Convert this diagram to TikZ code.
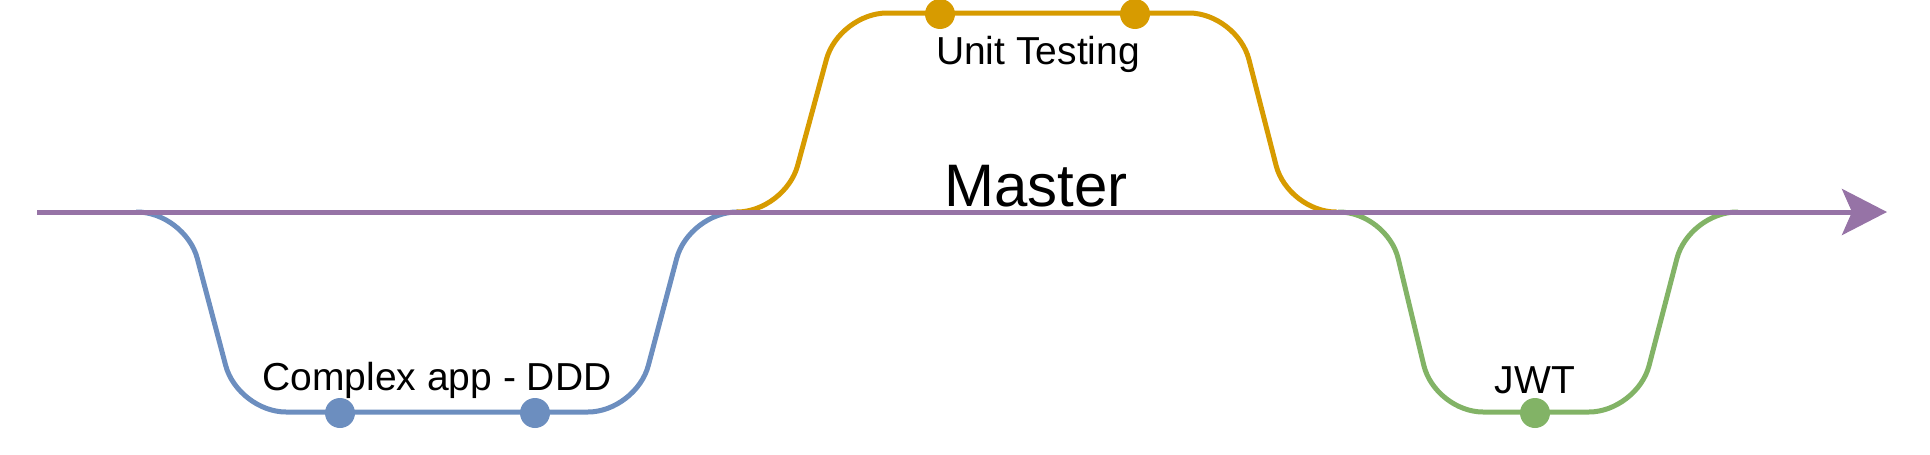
\documentclass[tikz,border=0pt]{standalone}
\usepackage{fontspec}
\setmainfont{Liberation Sans}
\usetikzlibrary{arrows.meta}
\definecolor{mpurple}{HTML}{9673A6}
\definecolor{mblue}{HTML}{6C8EBF}
\definecolor{morange}{HTML}{D79B00}
\definecolor{mgreen}{HTML}{82B366}
\begin{document}
\begin{tikzpicture}[x=1pt,y=-1pt,
  branch/.style={line width=5pt, rounded corners=48pt},
  commit/.style={circle, inner sep=0pt, minimum size=30pt},
  lbl/.style={inner sep=0pt, anchor=base, font=\fontsize{39}{47}\selectfont},
  masterline/.style={line width=5pt, draw=mpurple, -{Stealth[length=45pt, width=46pt, inset=10pt, fill=mpurple]}}]
\useasboundingbox (0,0) rectangle (1930,455);

\coordinate (mStart) at (37,212);
\coordinate (mEnd) at (1887,212);

% blue branch
\coordinate (bA) at (136,212);
\coordinate (bZ) at (738,212);
\draw[branch, mblue] (bA) -- (185,212) -- (238,412) -- (636,412) -- (689,212) -- (bZ);
% orange branch
\coordinate (oA) at (736,212);
\coordinate (oZ) at (1337,212);
\draw[branch, morange] (oA) -- (785,212) -- (839,13) -- (1237,13) -- (1288,212) -- (oZ);
% green branch
\coordinate (gA) at (1338,212);
\coordinate (gZ) at (1738,212);
\draw[branch, mgreen] (gA) -- (1387,212) -- (1435,412) -- (1637,412) -- (1689,212) -- (gZ);

% master
\draw[masterline] (mStart) -- (mEnd);

% commits
\node[commit, fill=mblue] (b1) at (340,413) {};
\node[commit, fill=mblue] (b2) at (535,413) {};
\node[commit, fill=morange] (o1) at (940,14) {};
\node[commit, fill=morange] (o2) at (1135,14) {};
\node[commit, fill=mgreen] (g1) at (1535,413) {};

% labels
\node[lbl] (lblDDD) at (437,390) {Complex app - DDD};
\node[lbl] (lblUT) at (1038,64) {Unit Testing};
\node[lbl] (lblJWT) at (1535,393) {JWT};
\node[lbl, font=\fontsize{60}{72}\selectfont] (lblMaster) at (1036,206) {Master};
\end{tikzpicture}
\end{document}
